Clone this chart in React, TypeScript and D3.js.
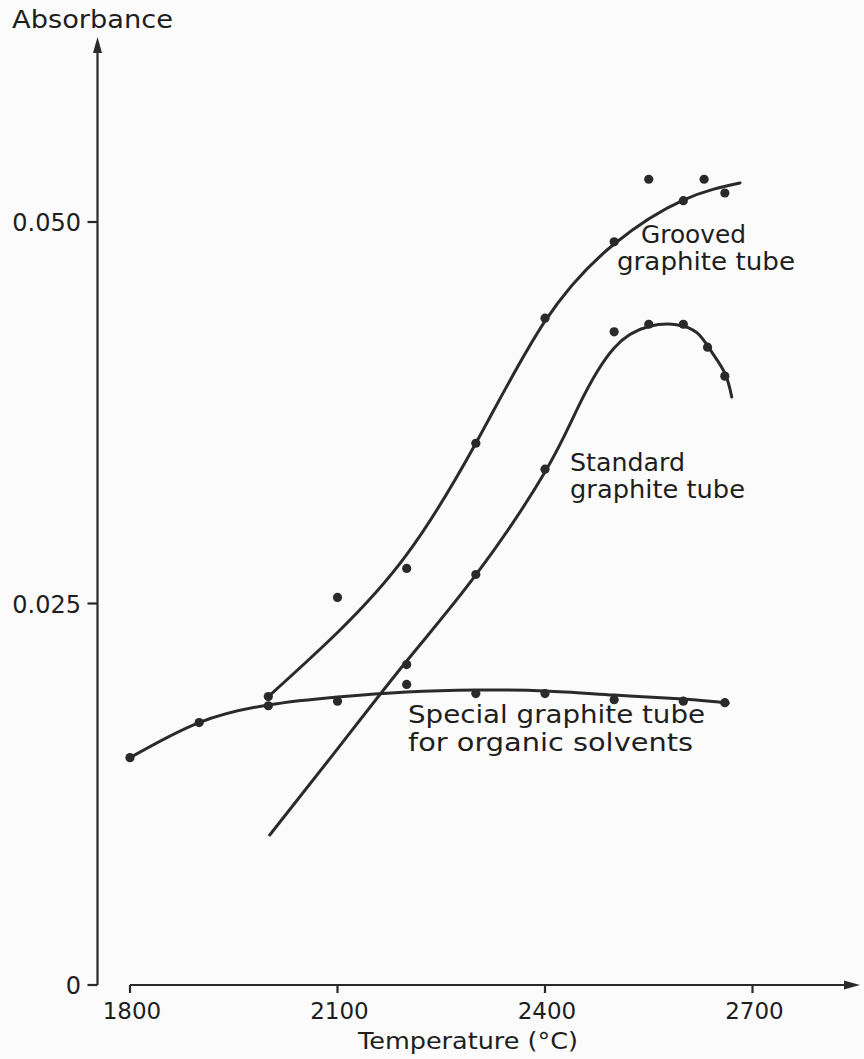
import React from "react";
import * as d3 from "d3";

// ---- data ----
const xTicks = [1800, 2100, 2400, 2700];
const yTicks = [0, 0.025, 0.05];
const yTickLabels = ["0", "0.025", "0.050"];

// Special graphite tube for organic solvents
const specialT = [1800, 1900, 2000, 2100, 2200, 2300, 2400, 2500, 2600, 2660];
const specialA = [0.0149, 0.0172, 0.0183, 0.0186, 0.0197, 0.0191, 0.0191, 0.0187, 0.0186, 0.0185];
const specialFitT = [1800, 1900, 2000, 2100, 2200, 2300, 2400, 2500, 2600, 2665];
const specialFitA = [0.0149, 0.0172, 0.01835, 0.01887, 0.0192, 0.01933, 0.01927, 0.019, 0.01874, 0.01848];

// Grooved graphite tube
const groovedT = [2000, 2100, 2200, 2300, 2400, 2500, 2550, 2600, 2630, 2660];
const groovedA = [0.0189, 0.0254, 0.0273, 0.0355, 0.0437, 0.0487, 0.0528, 0.0514, 0.0528, 0.0519];
const groovedFitT = [2000, 2100, 2200, 2300, 2400, 2500, 2600, 2682];
const groovedFitA = [0.0189, 0.0231, 0.0282, 0.0355, 0.0435, 0.04856, 0.05144, 0.05256];

// Standard graphite tube
const standardT = [2200, 2300, 2400, 2500, 2550, 2600, 2635, 2660];
const standardA = [0.021, 0.0269, 0.0338, 0.0428, 0.0433, 0.0433, 0.0418, 0.0399];
const standardFitT = [2002, 2100, 2200, 2300, 2400, 2450, 2500, 2550, 2590, 2620, 2640, 2660, 2670];
const standardFitA = [0.00983, 0.01547, 0.02123, 0.02687, 0.03362, 0.03807, 0.04175, 0.04315, 0.04327, 0.04273, 0.04155, 0.0401, 0.03853];

const INK = "#2a2a2a";
const FONT = "'DejaVu Sans', sans-serif";

export default function App() {
  const W = 864;
  const H = 1059;
  const x = d3.scaleLinear().domain([1800, 2700]).range([130, 752.5]);
  const y = d3.scaleLinear().domain([0, 0.05]).range([985, 222]);
  const axisX = 97.5;

  const line = d3
    .line<[number, number]>()
    .x((d) => x(d[0]))
    .y((d) => y(d[1]))
    .curve(d3.curveNatural);

  const zip = (a: number[], b: number[]) => a.map((v, i) => [v, b[i]] as [number, number]);

  const fits = [
    zip(specialFitT, specialFitA),
    zip(groovedFitT, groovedFitA),
    zip(standardFitT, standardFitA),
  ];
  const dots = [
    ...zip(specialT, specialA),
    ...zip(groovedT, groovedA),
    ...zip(standardT, standardA),
  ];

  const y0 = y(0);
  const yTop = 37;
  const xEnd = 860;

  return (
    <svg
      width={W}
      height={H}
      viewBox={`0 0 ${W} ${H}`}
      style={{ position: "absolute", left: 0, top: 0, background: "#fbfbfb" }}
    >
      <rect x={0} y={0} width={W} height={H} fill="#fbfbfb" />
      {/* y axis */}
      <line x1={axisX} y1={y0} x2={axisX} y2={yTop + 12} stroke={INK} strokeWidth={2.2} />
      <path d={`M${axisX},${yTop} L${axisX - 4.5},${yTop + 16} L${axisX + 4.5},${yTop + 16} Z`} fill={INK} />
      {yTicks.map((t, i) => (
        <g key={"yt" + i}>
          <line x1={axisX - 10} x2={axisX} y1={y(t)} y2={y(t)} stroke={INK} strokeWidth={2.2} />
          <text
            x={81}
            y={y(t) + 9}
            textAnchor="end"
            fontFamily={FONT}
            fontSize={24}
            fill="#1e1e1e"
          >
            {yTickLabels[i]}
          </text>
        </g>
      ))}
      <text x={12} y={28} fontFamily={FONT} fontSize={25} fill="#1e1e1e" textLength={161} lengthAdjust="spacingAndGlyphs">
        Absorbance
      </text>

      {/* x axis */}
      <line x1={x(1800)} y1={y0} x2={xEnd - 12} y2={y0} stroke={INK} strokeWidth={2.2} />
      <path d={`M${xEnd},${y0} L${xEnd - 16},${y0 - 4.5} L${xEnd - 16},${y0 + 4.5} Z`} fill={INK} />
      {xTicks.map((t) => (
        <g key={"xt" + t}>
          <line x1={x(t)} x2={x(t)} y1={y0} y2={y0 + 8} stroke={INK} strokeWidth={2.2} />
          <text x={x(t) + 2} y={1019} textAnchor="middle" fontFamily={FONT} fontSize={23} fill="#1e1e1e">
            {t}
          </text>
        </g>
      ))}
      <text x={358} y={1049} fontFamily={FONT} fontSize={23} fill="#1e1e1e" textLength={220} lengthAdjust="spacingAndGlyphs">
        Temperature (°C)
      </text>

      {/* fitted curves */}
      {fits.map((f, i) => (
        <path key={"f" + i} d={line(f) || ""} fill="none" stroke={INK} strokeWidth={3} strokeLinecap="round" />
      ))}
      {/* data points */}
      {dots.map((d, i) => (
        <circle key={"d" + i} cx={x(d[0])} cy={y(d[1])} r={4.6} fill={INK} />
      ))}

      {/* labels */}
      <g fontFamily={FONT} fontSize={25} fill="#1e1e1e">
        <text x={641} y={243} textLength={105} lengthAdjust="spacingAndGlyphs">Grooved</text>
        <text x={617} y={270} textLength={178} lengthAdjust="spacingAndGlyphs">graphite tube</text>
        <text x={570} y={471} textLength={115} lengthAdjust="spacingAndGlyphs">Standard</text>
        <text x={570} y={498} textLength={175} lengthAdjust="spacingAndGlyphs">graphite tube</text>
        <text x={408} y={723} textLength={297} lengthAdjust="spacingAndGlyphs">Special graphite tube</text>
        <text x={408} y={751} textLength={285} lengthAdjust="spacingAndGlyphs">for organic solvents</text>
      </g>
    </svg>
  );
}
